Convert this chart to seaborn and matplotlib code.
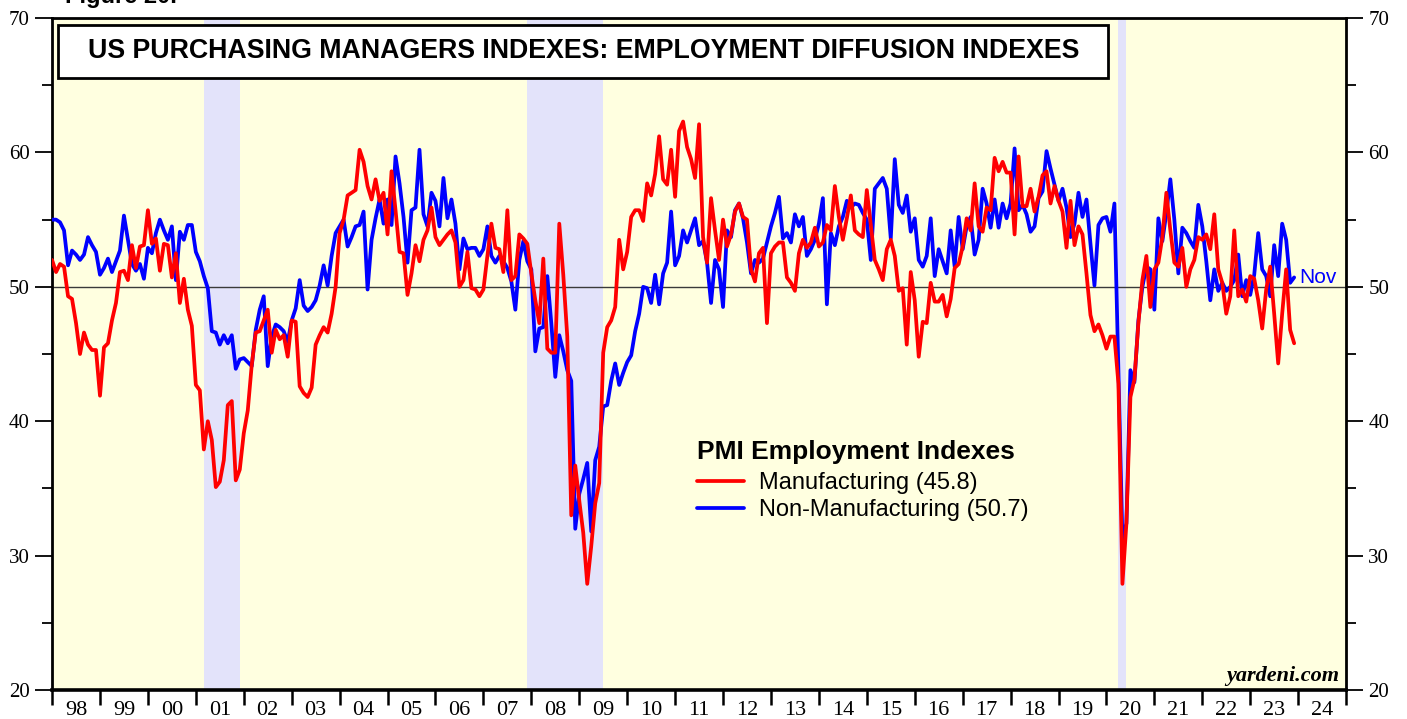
import pandas as pd
import seaborn as sns
import matplotlib.pyplot as plt
from matplotlib.patches import Rectangle

# ISM employment indexes, monthly, Dec 1997 .. Nov 2023
manufacturing = [
    52.0,
    51.1, 51.7, 51.5, 49.3, 49.1, 47.3, 45.0, 46.6, 45.7, 45.3, 45.3, 41.9,
    45.5, 45.8, 47.5, 48.8, 51.1, 51.2, 50.5, 53.1, 51.4, 53.0, 53.1, 55.7,
    53.2, 53.6, 51.2, 53.2, 53.1, 50.7, 52.5, 48.8, 50.6, 48.3, 47.1, 42.7,
    42.3, 37.9, 40.0, 38.6, 35.1, 35.5, 37.1, 41.2, 41.5, 35.6, 36.4, 39.1,
    40.8, 44.2, 46.6, 46.7, 47.5, 48.3, 45.1, 46.8, 46.1, 46.4, 44.8, 47.5,
    47.4, 42.6, 42.1, 41.8, 42.5, 45.7, 46.4, 47.0, 46.6, 48.0, 50.0, 54.0,
    55.0, 56.8, 57.0, 57.2, 60.2, 59.3, 57.5, 56.5, 58.0, 56.4, 57.0, 53.9,
    58.6, 55.7, 52.6, 52.5, 49.4, 51.0, 53.1, 51.9, 53.5, 54.2, 55.9, 53.7,
    53.1, 53.5, 53.9, 54.2, 53.3, 50.0, 50.5, 52.6, 49.9, 49.8, 49.3, 49.8,
    52.3, 54.7, 52.9, 52.8, 51.1, 55.7, 50.5, 50.8, 53.9, 53.6, 53.2, 51.0,
    49.0, 47.3, 52.1, 45.4, 45.1, 45.1, 54.7, 50.9, 46.3, 33.0, 36.7, 34.1,
    31.7, 27.9, 30.7, 33.9, 35.4, 45.1, 47.0, 47.5, 48.5, 53.5, 51.3, 52.6,
    55.2, 55.7, 55.7, 54.9, 57.7, 56.8, 58.4, 61.2, 58.0, 57.6, 60.2, 56.7,
    61.6, 62.3, 60.4, 59.5, 58.1, 62.1, 53.7, 51.8, 56.6, 54.2, 52.0, 55.0,
    53.0, 53.9, 55.6, 56.2, 55.2, 55.0, 51.3, 50.4, 52.5, 52.9, 47.3, 52.5,
    53.0, 53.3, 53.3, 50.7, 50.3, 49.7, 52.5, 53.5, 52.9, 53.3, 54.4, 53.0,
    53.3, 54.6, 54.2, 57.5, 55.2, 53.5, 55.1, 56.8, 54.2, 53.9, 53.7, 57.2,
    54.6, 52.0, 51.3, 50.5, 52.8, 53.5, 52.3, 49.7, 49.9, 45.7, 51.1, 49.0,
    44.8, 47.4, 47.3, 50.3, 48.9, 48.9, 49.4, 47.8, 49.1, 51.4, 51.7, 53.0,
    55.1, 54.2, 57.7, 54.5, 54.1, 55.9, 55.7, 59.6, 58.6, 59.3, 58.5, 58.5,
    53.9, 59.7, 56.0, 56.0, 57.3, 55.6, 56.7, 58.3, 58.6, 56.2, 57.5, 56.4,
    55.6, 52.9, 56.4, 53.1, 54.5, 53.9, 51.0, 47.9, 46.7, 47.2, 46.4, 45.4,
    46.3, 46.3, 42.8, 27.9, 32.4, 41.8, 43.1, 47.3, 50.5, 52.3, 48.5, 51.3,
    51.8, 53.7, 57.0, 54.2, 51.8, 51.5, 52.9, 50.0, 51.3, 52.0, 53.7, 53.5,
    53.9, 52.8, 55.4, 51.3, 50.3, 48.0, 49.3, 54.2, 49.3, 49.8, 48.9, 50.8,
    50.6, 49.0, 46.9, 49.8, 51.5, 48.0, 44.3, 48.0, 51.3, 46.8, 45.8,
]

non_manufacturing = [
    55.0,
    55.0, 54.8, 54.2, 51.6, 52.7, 52.4, 52.0, 52.4, 53.7, 53.1, 52.6, 50.9,
    51.4, 52.1, 51.1, 51.9, 52.7, 55.3, 53.5, 51.7, 51.2, 51.7, 50.6, 52.9,
    52.5, 54.0, 55.0, 54.2, 53.5, 54.5, 50.5, 54.1, 53.5, 54.6, 54.6, 52.6,
    51.9, 50.8, 49.9, 46.7, 46.6, 45.7, 46.4, 45.8, 46.4, 43.9, 44.6, 44.7,
    44.4, 44.1, 46.8, 48.3, 49.3, 44.1, 46.3, 47.2, 47.0, 46.7, 45.9, 47.5,
    48.4, 50.5, 48.6, 48.2, 48.5, 49.0, 50.1, 51.6, 50.1, 52.3, 54.0, 54.5,
    55.0, 53.0, 53.7, 54.5, 54.6, 55.6, 49.8, 53.5, 55.1, 56.5, 54.7, 56.5,
    54.6, 59.7, 57.7, 55.2, 51.8, 55.7, 55.9, 60.2, 55.4, 54.5, 57.0, 56.4,
    54.5, 58.1, 55.1, 56.5, 54.7, 51.3, 53.6, 52.8, 52.9, 52.9, 52.3, 52.8,
    54.5, 52.3, 51.8, 52.3, 51.9, 51.4, 50.4, 48.3, 52.0, 53.4, 51.9, 51.3,
    45.2, 46.9, 47.0, 50.8, 47.3, 43.3, 46.4, 45.2, 43.8, 43.0, 32.0, 34.6,
    35.7, 36.9, 31.8, 37.1, 38.1, 41.1, 41.2, 43.0, 44.3, 42.7, 43.6, 44.4,
    44.9, 46.7, 48.0, 50.0, 49.9, 48.8, 50.9, 48.7, 51.0, 51.8, 55.6, 51.6,
    52.3, 54.2, 53.3, 54.2, 55.1, 53.1, 53.4, 51.8, 48.8, 52.0, 51.3, 48.5,
    54.2, 53.7, 55.7, 56.2, 55.1, 53.3, 51.0, 52.0, 51.8, 52.1, 53.3, 54.5,
    55.5, 56.7, 53.6, 54.0, 53.3, 55.4, 54.5, 55.2, 52.3, 52.8, 53.5, 54.7,
    56.6, 48.7, 54.0, 53.1, 54.5, 55.2, 56.4, 55.9, 56.2, 56.1, 55.5, 55.0,
    52.0, 57.3, 57.7, 58.1, 57.3, 53.6, 59.5, 56.1, 55.5, 56.8, 54.1, 55.1,
    52.0, 51.5, 52.3, 55.1, 50.8, 52.8, 51.9, 51.0, 54.2, 51.5, 55.2, 52.8,
    54.5, 55.2, 52.4, 53.5, 57.3, 56.2, 54.4, 56.5, 54.4, 56.2, 55.1, 56.2,
    60.3, 55.7, 56.1, 55.4, 54.1, 54.5, 56.6, 57.1, 60.1, 58.8, 57.6, 56.4,
    57.3, 55.9, 53.7, 54.7, 57.0, 55.2, 56.5, 53.2, 50.1, 54.6, 55.1, 55.2,
    54.1, 56.2, 43.8, 31.2, 32.4, 43.8, 42.9, 47.5, 50.0, 51.5, 51.3, 48.3,
    55.1, 53.4, 55.5, 58.0, 55.0, 51.0, 54.4, 54.0, 53.4, 52.9, 56.1, 54.5,
    51.9, 49.0, 51.3, 49.7, 50.3, 49.7, 50.0, 50.5, 52.4, 49.3, 50.5, 49.4,
    50.9, 54.0, 51.3, 50.8, 49.3, 53.1, 50.8, 54.7, 53.5, 50.3, 50.7,
]

year_labels = ['98', '99', '00', '01', '02', '03', '04', '05', '06', '07',
               '08', '09', '10', '11', '12', '13', '14', '15', '16', '17',
               '18', '19', '20', '21', '22', '23', '24']
recessions = [('2001-03', '2001-11'), ('2007-12', '2009-06'), ('2020-04', '2020-05')]

mfg_label = 'Manufacturing (45.8)'
non_label = 'Non-Manufacturing (50.7)'

months = pd.period_range('1997-12', periods=len(manufacturing), freq='M')
df = pd.DataFrame({
    't': months.year + months.month / 12,   # plotted at month end
    mfg_label: manufacturing,
    non_label: non_manufacturing,
})

sns.set_style('ticks')
plt.rcParams['font.family'] = ['Liberation Sans', 'DejaVu Sans']
plt.rcParams['text.color'] = 'black'
plt.rcParams['xtick.color'] = 'black'
plt.rcParams['ytick.color'] = 'black'

fig = plt.figure(figsize=(14.07, 7.19), dpi=100)
ax = fig.add_axes([0.037, 0.0403, 0.9197, 0.9346])
ax.set_facecolor('#FFFFE0')

for start, end in recessions:
    s = pd.Period(start, 'M')
    e = pd.Period(end, 'M')
    ax.axvspan(s.year + (s.month - 1) / 12, e.year + e.month / 12,
               color='#E3E3FA', lw=0, zorder=0)

ax.axhline(50, color='#3a3a3a', lw=1.0, zorder=1)

sns.lineplot(data=df, x='t', y=non_label, color='#0000FF', linewidth=2.7,
             label=non_label, ax=ax, zorder=3)
sns.lineplot(data=df, x='t', y=mfg_label, color='#FF0000', linewidth=2.7,
             label=mfg_label, ax=ax, zorder=4)

ax.set_xlim(1998, 2025)
ax.set_ylim(20, 70)
ax.set_xlabel('')
ax.set_ylabel('')

# x axis: ticks at year boundaries, labels mid-year
ax.set_xticks(range(1998, 2026))
ax.set_xticklabels([])
ax.set_xticks([y + 0.5 for y in range(1998, 2025)], minor=True)
ax.set_xticklabels(year_labels, minor=True, family='Liberation Serif', fontsize=16)
ax.tick_params(axis='x', which='major', direction='out', length=11, width=1.8)
ax.tick_params(axis='x', which='minor', length=0, pad=8)

ax.set_yticks(range(20, 71, 10))
ax.set_yticks(range(25, 70, 10), minor=True)
ax.tick_params(axis='y', which='both', left=True, right=True,
               labelleft=True, labelright=True, direction='out')
ax.tick_params(axis='y', which='major', length=12, width=1.3, labelsize=15, pad=4)
ax.tick_params(axis='y', which='minor', length=7, width=1.3)
for lab in ax.get_yticklabels():
    lab.set_family('Liberation Serif')

for side in ['left', 'right', 'top', 'bottom']:
    ax.spines[side].set_color('black')
    ax.spines[side].set_linewidth(2)
ax.spines['bottom'].set_linewidth(2.6)

# title box
ax.add_patch(Rectangle((0.0046, 0.9107), 0.8114, 0.0789, transform=ax.transAxes,
                       facecolor='white', edgecolor='black', lw=2, zorder=5))
ax.text(0.4107, 0.951, 'US PURCHASING MANAGERS INDEXES: EMPLOYMENT DIFFUSION INDEXES',
        transform=ax.transAxes, ha='center', va='center', fontsize=19.3,
        fontweight='bold', color='black', zorder=6)

handles, labels = ax.get_legend_handles_labels()
leg = ax.legend(handles[::-1], labels[::-1], title='PMI Employment Indexes',
                loc='upper left', bbox_to_anchor=(0.4985, 0.372), frameon=False,
                fontsize=17, title_fontproperties={'weight': 'bold', 'size': 19},
                handlelength=2.0, handletextpad=0.6, labelspacing=0.2,
                borderpad=0, borderaxespad=0, labelcolor='black')
leg._legend_box.align = 'left'
leg._legend_box.sep = 6
leg.get_title().set_color('black')

ax.annotate('Nov', xy=(df['t'].iloc[-1], non_manufacturing[-1]), xytext=(4, 0),
            textcoords='offset points', color='#0000FF', va='center', fontsize=15)

ax.text(0.995, 0.021, 'yardeni.com', transform=ax.transAxes, ha='right',
        va='center', family='Liberation Serif', style='italic', fontweight='bold',
        fontsize=16)

fig.text(0.0462, 0.9958, 'Figure 20.', fontsize=17, fontweight='bold', va='baseline')

fig.savefig('out.png', dpi=100)
